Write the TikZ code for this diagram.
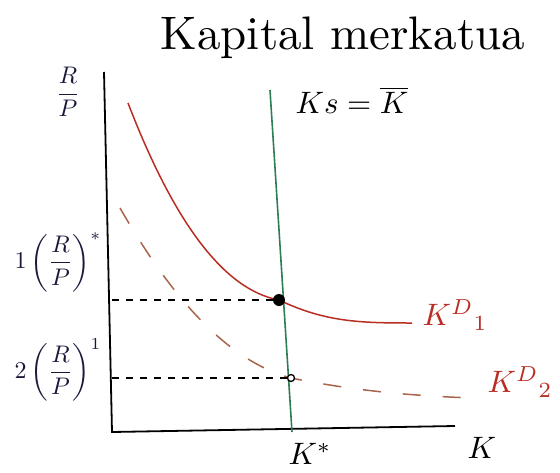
\documentclass[tikz,border=0pt]{standalone}
\usepackage{amsmath}
\usepackage{tikz}
\usetikzlibrary{positioning, calc}

\definecolor{demandred}{RGB}{185,45,35}
\definecolor{shiftbrown}{RGB}{170,100,75}
\definecolor{supplygreen}{RGB}{45,125,85}
\definecolor{inkblue}{RGB}{25,25,60}

\begin{document}
\begin{tikzpicture}[x=1pt, y=-1pt,
    axisline/.style={line width=1.8pt, black},
    guide/.style={line width=1.2pt, dash pattern=on 7pt off 7pt},
    bigtext/.style={scale=4.7},
    midtext/.style={scale=3.1},
    sidetext/.style={scale=2.4, text=inkblue}]
    \useasboundingbox (0,0) rectangle (560,472);

    % --- Title ---
    \node[bigtext] (title) at (343,38) {Kapital merkatua};

    % --- Axes ---
    \coordinate (ytop) at (104,72);
    \coordinate (origin) at (112,432);
    \coordinate (xend) at (455,426);
    \draw[axisline] (ytop) -- (origin) -- (xend);
    \node[sidetext] (ylabel) at (68,92) {$\dfrac{R}{P}$};
    \node[midtext] (xlabel) at (482,448) {$K$};

    % --- Supply: Ks = K bar ---
    \coordinate (stop) at (270,90);
    \coordinate (sbot) at (292,432);
    \draw[supplygreen, line width=1.6pt] (stop) -- (sbot);
    \node[midtext] (slabel) at (352,100) {$Ks=\overline{K}$};
    \node[midtext] (kstar) at (310,454) {$K^{*}$};

    % --- Equilibrium points ---
    \coordinate (eqone) at (279,300);
    \coordinate (eqtwo) at (291,378);

    % --- Demand K^D_1 ---
    \coordinate (dstart) at (128,103);
    \coordinate (dend) at (412,323);
    \draw[demandred, line width=1.5pt] (dstart) .. controls (175,225) and (225,290) .. (eqone)
        .. controls (325,322) and (360,323) .. (dend);
    \node[midtext, text=demandred] (dlabel) at (455,315) {$K^{D}{}_{1}$};

    % --- Demand K^D_2 (shifted, dashed) ---
    \coordinate (ostart) at (120,208);
    \coordinate (oend) at (472,398);
    \draw[shiftbrown, line width=1.5pt, dash pattern=on 18pt off 22pt] (ostart)
        .. controls (170,295) and (225,360) .. (eqtwo)
        .. controls (360,392) and (420,396) .. (oend);
    \node[midtext, text=demandred] (olabel) at (520,382) {$K^{D}{}_{2}$};

    % --- Guide lines to the axis ---
    \coordinate (yone) at (origin |- eqone);
    \coordinate (ytwo) at (origin |- eqtwo);
    \draw[guide] (yone) -- (eqone);
    \draw[guide] (ytwo) -- (eqtwo);
    \node[sidetext] (rone) at (58,262) {$1\left(\dfrac{R}{P}\right)^{*}$};
    \node[sidetext] (rtwo) at (58,370) {$2\left(\dfrac{R}{P}\right)^{1}$};

    \fill (eqone) circle (6pt);
    \draw[line width=1.3pt, fill=white] (eqtwo) circle (3.5pt);

\end{tikzpicture}
\end{document}
